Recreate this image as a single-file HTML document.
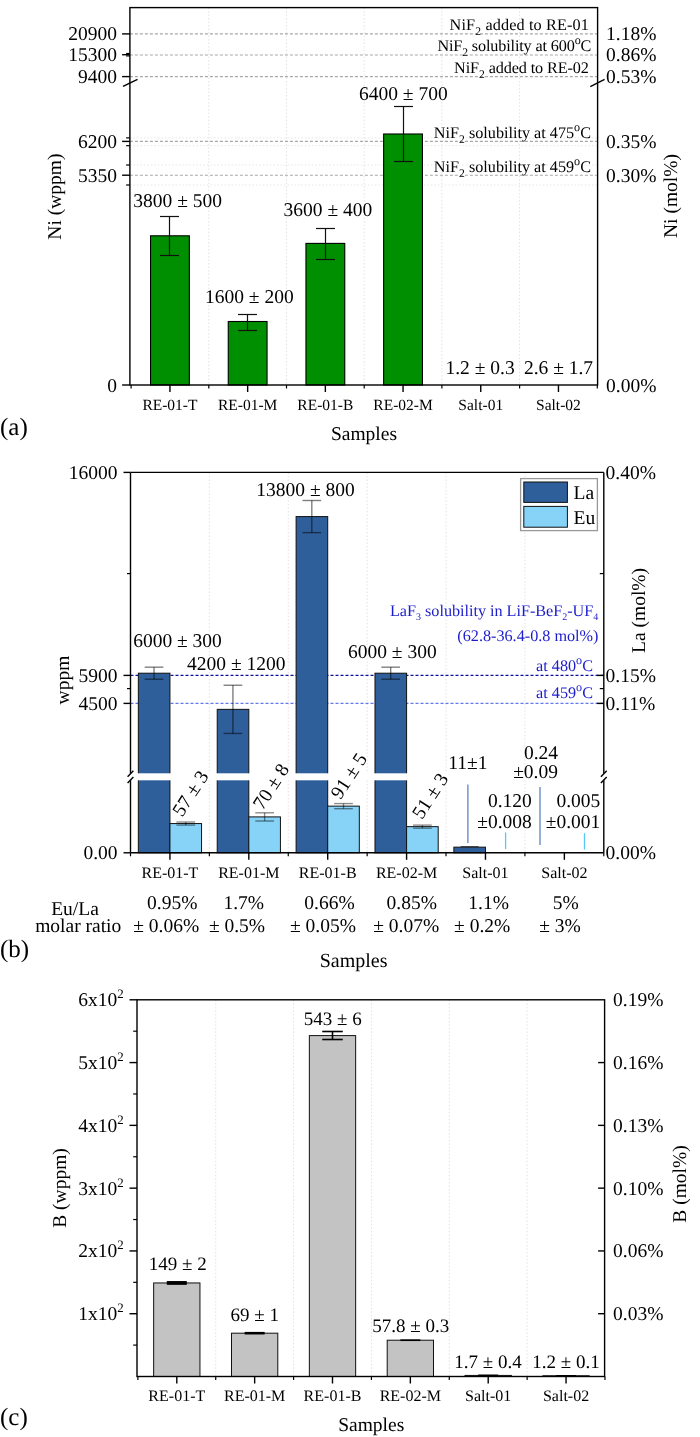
<!DOCTYPE html>
<html><head><meta charset="utf-8"><title>chart</title>
<style>
html,body{margin:0;padding:0;background:#fff;}
body{width:700px;height:1437px;overflow:hidden;}
svg{display:block;font-family:"Liberation Serif", serif;will-change:transform;text-rendering:geometricPrecision;}
</style></head>
<body>
<svg width="700" height="1437" viewBox="0 0 700 1437">
<rect x="0" y="0" width="700" height="1437" fill="#fff"/>
<line x1="208.80" y1="7.60" x2="208.80" y2="385.00" stroke="#e2e2e2" stroke-width="1" stroke-dasharray="1.5 2"/>
<line x1="286.50" y1="7.60" x2="286.50" y2="385.00" stroke="#e2e2e2" stroke-width="1" stroke-dasharray="1.5 2"/>
<line x1="364.20" y1="7.60" x2="364.20" y2="385.00" stroke="#e2e2e2" stroke-width="1" stroke-dasharray="1.5 2"/>
<line x1="441.90" y1="7.60" x2="441.90" y2="385.00" stroke="#e2e2e2" stroke-width="1" stroke-dasharray="1.5 2"/>
<line x1="519.60" y1="7.60" x2="519.60" y2="385.00" stroke="#e2e2e2" stroke-width="1" stroke-dasharray="1.5 2"/>
<line x1="129.90" y1="137.90" x2="597.60" y2="137.90" stroke="#e6e6e6" stroke-width="1" stroke-dasharray="1.5 2"/>
<line x1="129.90" y1="145.70" x2="597.60" y2="145.70" stroke="#e6e6e6" stroke-width="1" stroke-dasharray="1.5 2"/>
<line x1="129.90" y1="165.00" x2="597.60" y2="165.00" stroke="#e6e6e6" stroke-width="1" stroke-dasharray="1.5 2"/>
<line x1="129.90" y1="185.00" x2="597.60" y2="185.00" stroke="#e6e6e6" stroke-width="1" stroke-dasharray="1.5 2"/>
<line x1="129.90" y1="33.90" x2="597.60" y2="33.90" stroke="#a8a8a8" stroke-width="1.1" stroke-dasharray="3 2"/>
<line x1="129.90" y1="55.00" x2="597.60" y2="55.00" stroke="#a8a8a8" stroke-width="1.1" stroke-dasharray="3 2"/>
<line x1="129.90" y1="76.60" x2="597.60" y2="76.60" stroke="#a8a8a8" stroke-width="1.1" stroke-dasharray="3 2"/>
<line x1="129.90" y1="141.40" x2="597.60" y2="141.40" stroke="#a8a8a8" stroke-width="1.1" stroke-dasharray="3 2"/>
<line x1="129.90" y1="175.20" x2="597.60" y2="175.20" stroke="#a8a8a8" stroke-width="1.1" stroke-dasharray="3 2"/>
<rect x="150.55" y="235.80" width="38.80" height="149.20" fill="#008f00" stroke="#000" stroke-width="1.1" />
<line x1="169.50" y1="216.50" x2="169.50" y2="255.50" stroke="#111" stroke-width="1.2" />
<line x1="160.00" y1="216.50" x2="179.00" y2="216.50" stroke="#111" stroke-width="1.2" />
<line x1="160.00" y1="255.50" x2="179.00" y2="255.50" stroke="#111" stroke-width="1.2" />
<rect x="228.25" y="321.50" width="38.80" height="63.50" fill="#008f00" stroke="#000" stroke-width="1.1" />
<line x1="247.50" y1="314.50" x2="247.50" y2="330.50" stroke="#111" stroke-width="1.2" />
<line x1="238.00" y1="314.50" x2="257.00" y2="314.50" stroke="#111" stroke-width="1.2" />
<line x1="238.00" y1="330.50" x2="257.00" y2="330.50" stroke="#111" stroke-width="1.2" />
<rect x="305.95" y="243.40" width="38.80" height="141.60" fill="#008f00" stroke="#000" stroke-width="1.1" />
<line x1="325.50" y1="228.50" x2="325.50" y2="259.50" stroke="#111" stroke-width="1.2" />
<line x1="316.00" y1="228.50" x2="335.00" y2="228.50" stroke="#111" stroke-width="1.2" />
<line x1="316.00" y1="259.50" x2="335.00" y2="259.50" stroke="#111" stroke-width="1.2" />
<rect x="383.65" y="134.00" width="38.80" height="251.00" fill="#008f00" stroke="#000" stroke-width="1.1" />
<line x1="403.50" y1="106.50" x2="403.50" y2="161.50" stroke="#111" stroke-width="1.2" />
<line x1="394.00" y1="106.50" x2="413.00" y2="106.50" stroke="#111" stroke-width="1.2" />
<line x1="394.00" y1="161.50" x2="413.00" y2="161.50" stroke="#111" stroke-width="1.2" />
<rect x="129.90" y="7.60" width="467.70" height="377.40" fill="none" stroke="#000" stroke-width="1.4" />
<line x1="122.10" y1="33.90" x2="129.90" y2="33.90" stroke="#000" stroke-width="1.4" />
<line x1="122.10" y1="54.70" x2="129.90" y2="54.70" stroke="#000" stroke-width="1.4" />
<line x1="122.10" y1="76.60" x2="129.90" y2="76.60" stroke="#000" stroke-width="1.4" />
<line x1="122.10" y1="141.40" x2="129.90" y2="141.40" stroke="#000" stroke-width="1.4" />
<line x1="122.10" y1="175.20" x2="129.90" y2="175.20" stroke="#000" stroke-width="1.4" />
<line x1="122.10" y1="385.00" x2="129.90" y2="385.00" stroke="#000" stroke-width="1.4" />
<line x1="126.10" y1="53.50" x2="129.90" y2="53.50" stroke="#000" stroke-width="1.2" />
<line x1="126.10" y1="55.90" x2="129.90" y2="55.90" stroke="#000" stroke-width="1.2" />
<line x1="126.10" y1="137.90" x2="129.90" y2="137.90" stroke="#000" stroke-width="1.2" />
<line x1="126.10" y1="145.70" x2="129.90" y2="145.70" stroke="#000" stroke-width="1.2" />
<line x1="126.10" y1="165.00" x2="129.90" y2="165.00" stroke="#000" stroke-width="1.2" />
<line x1="126.10" y1="185.00" x2="129.90" y2="185.00" stroke="#000" stroke-width="1.2" />
<line x1="169.95" y1="385.00" x2="169.95" y2="392.00" stroke="#000" stroke-width="1.4" />
<line x1="247.65" y1="385.00" x2="247.65" y2="392.00" stroke="#000" stroke-width="1.4" />
<line x1="325.35" y1="385.00" x2="325.35" y2="392.00" stroke="#000" stroke-width="1.4" />
<line x1="403.05" y1="385.00" x2="403.05" y2="392.00" stroke="#000" stroke-width="1.4" />
<line x1="480.75" y1="385.00" x2="480.75" y2="392.00" stroke="#000" stroke-width="1.4" />
<line x1="558.45" y1="385.00" x2="558.45" y2="392.00" stroke="#000" stroke-width="1.4" />
<line x1="131.10" y1="385.00" x2="131.10" y2="388.50" stroke="#000" stroke-width="1.2" />
<line x1="208.80" y1="385.00" x2="208.80" y2="388.50" stroke="#000" stroke-width="1.2" />
<line x1="286.50" y1="385.00" x2="286.50" y2="388.50" stroke="#000" stroke-width="1.2" />
<line x1="364.20" y1="385.00" x2="364.20" y2="388.50" stroke="#000" stroke-width="1.2" />
<line x1="441.90" y1="385.00" x2="441.90" y2="388.50" stroke="#000" stroke-width="1.2" />
<line x1="519.60" y1="385.00" x2="519.60" y2="388.50" stroke="#000" stroke-width="1.2" />
<line x1="597.30" y1="385.00" x2="597.30" y2="388.50" stroke="#000" stroke-width="1.2" />
<line x1="123.00" y1="86.40" x2="137.50" y2="79.30" stroke="#000" stroke-width="1.4" />
<line x1="590.30" y1="86.70" x2="604.60" y2="79.40" stroke="#000" stroke-width="1.4" />
<text x="117.00" y="40.40" font-size="19.5" text-anchor="end" fill="#000" >20900</text>
<text x="117.00" y="60.70" font-size="19.5" text-anchor="end" fill="#000" >15300</text>
<text x="117.00" y="83.10" font-size="19.5" text-anchor="end" fill="#000" >9400</text>
<text x="117.00" y="147.90" font-size="19.5" text-anchor="end" fill="#000" >6200</text>
<text x="117.00" y="181.70" font-size="19.5" text-anchor="end" fill="#000" >5350</text>
<text x="117.00" y="391.50" font-size="19.5" text-anchor="end" fill="#000" >0</text>
<text x="606.00" y="40.40" font-size="19.5" text-anchor="start" fill="#000" >1.18%</text>
<text x="606.00" y="61.10" font-size="19.5" text-anchor="start" fill="#000" >0.86%</text>
<text x="606.00" y="83.10" font-size="19.5" text-anchor="start" fill="#000" >0.53%</text>
<text x="606.00" y="147.90" font-size="19.5" text-anchor="start" fill="#000" >0.35%</text>
<text x="606.00" y="181.70" font-size="19.5" text-anchor="start" fill="#000" >0.30%</text>
<text x="606.00" y="391.50" font-size="19.5" text-anchor="start" fill="#000" >0.00%</text>
<text x="449.60" y="30.00" font-size="16.2" text-anchor="start" fill="#000" textLength="139.2">NiF<tspan baseline-shift="-5" font-size="72%">2</tspan><tspan> </tspan>added to RE-01</text>
<text x="437.40" y="51.10" font-size="16.2" text-anchor="start" fill="#000" textLength="154.0">NiF<tspan baseline-shift="-5" font-size="72%">2</tspan><tspan> </tspan>solubility at 600<tspan baseline-shift="7.5" font-size="75%">o</tspan>C</text>
<text x="454.10" y="72.50" font-size="16.2" text-anchor="start" fill="#000" textLength="134.7">NiF<tspan baseline-shift="-5" font-size="72%">2</tspan><tspan> </tspan>added to RE-02</text>
<text x="591.00" y="137.60" font-size="16.2" text-anchor="end" fill="#000" >NiF<tspan baseline-shift="-5" font-size="72%">2</tspan><tspan> </tspan>solubility at 475<tspan baseline-shift="7.5" font-size="75%">o</tspan>C</text>
<text x="591.00" y="172.00" font-size="16.2" text-anchor="end" fill="#000" >NiF<tspan baseline-shift="-5" font-size="72%">2</tspan><tspan> </tspan>solubility at 459<tspan baseline-shift="7.5" font-size="75%">o</tspan>C</text>
<text x="177.70" y="206.50" font-size="19.5" text-anchor="middle" fill="#000" >3800 ± 500</text>
<text x="249.30" y="303.20" font-size="19.5" text-anchor="middle" fill="#000" >1600 ± 200</text>
<text x="327.90" y="215.70" font-size="19.5" text-anchor="middle" fill="#000" >3600 ± 400</text>
<text x="403.30" y="99.50" font-size="19.5" text-anchor="middle" fill="#000" >6400 ± 700</text>
<text x="480.10" y="374.20" font-size="19.5" text-anchor="middle" fill="#000" >1.2 ± 0.3</text>
<text x="558.50" y="374.20" font-size="19.5" text-anchor="middle" fill="#000" >2.6 ± 1.7</text>
<text x="169.95" y="409.50" font-size="15.5" text-anchor="middle" fill="#000" >RE-01-T</text>
<text x="247.65" y="409.50" font-size="15.5" text-anchor="middle" fill="#000" >RE-01-M</text>
<text x="325.35" y="409.50" font-size="15.5" text-anchor="middle" fill="#000" >RE-01-B</text>
<text x="403.05" y="409.50" font-size="15.5" text-anchor="middle" fill="#000" >RE-02-M</text>
<text x="480.75" y="409.50" font-size="15.5" text-anchor="middle" fill="#000" >Salt-01</text>
<text x="558.45" y="409.50" font-size="15.5" text-anchor="middle" fill="#000" >Salt-02</text>
<text x="364.00" y="440.00" font-size="19.5" text-anchor="middle" fill="#000" >Samples</text>
<text x="0.00" y="434.50" font-size="25" text-anchor="start" fill="#000" >(a)</text>
<text x="0.00" y="0.00" font-size="19.5" text-anchor="middle" fill="#000" transform="translate(61.0 196.6) rotate(-90)">Ni (wppm)</text>
<text x="0.00" y="0.00" font-size="19.5" text-anchor="middle" fill="#000" transform="translate(677 196) rotate(-90)">Ni (mol%)</text>
<line x1="209.38" y1="472.40" x2="209.38" y2="852.80" stroke="#e2e2e2" stroke-width="1" stroke-dasharray="1.5 2"/>
<line x1="288.27" y1="472.40" x2="288.27" y2="852.80" stroke="#e2e2e2" stroke-width="1" stroke-dasharray="1.5 2"/>
<line x1="367.15" y1="472.40" x2="367.15" y2="852.80" stroke="#e2e2e2" stroke-width="1" stroke-dasharray="1.5 2"/>
<line x1="446.03" y1="472.40" x2="446.03" y2="852.80" stroke="#e2e2e2" stroke-width="1" stroke-dasharray="1.5 2"/>
<line x1="524.92" y1="472.40" x2="524.92" y2="852.80" stroke="#e2e2e2" stroke-width="1" stroke-dasharray="1.5 2"/>
<line x1="130.50" y1="675.40" x2="603.80" y2="675.40" stroke="#1010a0" stroke-width="1.3" stroke-dasharray="3 2"/>
<line x1="130.50" y1="703.40" x2="603.80" y2="703.40" stroke="#6478f0" stroke-width="1.1" stroke-dasharray="3 2"/>
<rect x="138.34" y="673.20" width="31.60" height="179.60" fill="#2f5f9b" stroke="#111" stroke-width="1.0" />
<line x1="154.04" y1="667.18" x2="154.04" y2="679.23" stroke="#000" stroke-width="1.4" stroke-opacity="0.5"/>
<line x1="144.69" y1="667.18" x2="163.39" y2="667.18" stroke="#000" stroke-width="1.4" stroke-opacity="0.5"/>
<line x1="144.69" y1="679.23" x2="163.39" y2="679.23" stroke="#000" stroke-width="1.4" stroke-opacity="0.5"/>
<rect x="169.94" y="823.57" width="31.60" height="29.23" fill="#87d3f8" stroke="#111" stroke-width="1.0" />
<line x1="185.74" y1="822.03" x2="185.74" y2="825.11" stroke="#000" stroke-width="1.4" stroke-opacity="0.45"/>
<line x1="176.39" y1="822.03" x2="195.09" y2="822.03" stroke="#000" stroke-width="1.4" stroke-opacity="0.45"/>
<line x1="176.39" y1="825.11" x2="195.09" y2="825.11" stroke="#000" stroke-width="1.4" stroke-opacity="0.45"/>
<rect x="217.22" y="709.35" width="31.60" height="143.45" fill="#2f5f9b" stroke="#111" stroke-width="1.0" />
<line x1="232.92" y1="685.25" x2="232.92" y2="733.44" stroke="#000" stroke-width="1.4" stroke-opacity="0.5"/>
<line x1="223.57" y1="685.25" x2="242.27" y2="685.25" stroke="#000" stroke-width="1.4" stroke-opacity="0.5"/>
<line x1="223.57" y1="733.44" x2="242.27" y2="733.44" stroke="#000" stroke-width="1.4" stroke-opacity="0.5"/>
<rect x="248.82" y="816.90" width="31.60" height="35.90" fill="#87d3f8" stroke="#111" stroke-width="1.0" />
<line x1="264.62" y1="812.80" x2="264.62" y2="821.01" stroke="#000" stroke-width="1.4" stroke-opacity="0.45"/>
<line x1="255.28" y1="812.80" x2="273.98" y2="812.80" stroke="#000" stroke-width="1.4" stroke-opacity="0.45"/>
<line x1="255.28" y1="821.01" x2="273.98" y2="821.01" stroke="#000" stroke-width="1.4" stroke-opacity="0.45"/>
<rect x="296.11" y="516.58" width="31.60" height="336.22" fill="#2f5f9b" stroke="#111" stroke-width="1.0" />
<line x1="311.81" y1="500.51" x2="311.81" y2="532.64" stroke="#000" stroke-width="1.4" stroke-opacity="0.5"/>
<line x1="302.46" y1="500.51" x2="321.16" y2="500.51" stroke="#000" stroke-width="1.4" stroke-opacity="0.5"/>
<line x1="302.46" y1="532.64" x2="321.16" y2="532.64" stroke="#000" stroke-width="1.4" stroke-opacity="0.5"/>
<rect x="327.71" y="806.13" width="31.60" height="46.67" fill="#87d3f8" stroke="#111" stroke-width="1.0" />
<line x1="343.51" y1="803.57" x2="343.51" y2="808.70" stroke="#000" stroke-width="1.4" stroke-opacity="0.45"/>
<line x1="334.16" y1="803.57" x2="352.86" y2="803.57" stroke="#000" stroke-width="1.4" stroke-opacity="0.45"/>
<line x1="334.16" y1="808.70" x2="352.86" y2="808.70" stroke="#000" stroke-width="1.4" stroke-opacity="0.45"/>
<rect x="374.99" y="673.20" width="31.60" height="179.60" fill="#2f5f9b" stroke="#111" stroke-width="1.0" />
<line x1="390.69" y1="667.18" x2="390.69" y2="679.23" stroke="#000" stroke-width="1.4" stroke-opacity="0.5"/>
<line x1="381.34" y1="667.18" x2="400.04" y2="667.18" stroke="#000" stroke-width="1.4" stroke-opacity="0.5"/>
<line x1="381.34" y1="679.23" x2="400.04" y2="679.23" stroke="#000" stroke-width="1.4" stroke-opacity="0.5"/>
<rect x="406.59" y="826.65" width="31.60" height="26.15" fill="#87d3f8" stroke="#111" stroke-width="1.0" />
<line x1="422.39" y1="825.11" x2="422.39" y2="828.18" stroke="#000" stroke-width="1.4" stroke-opacity="0.45"/>
<line x1="413.04" y1="825.11" x2="431.74" y2="825.11" stroke="#000" stroke-width="1.4" stroke-opacity="0.45"/>
<line x1="413.04" y1="828.18" x2="431.74" y2="828.18" stroke="#000" stroke-width="1.4" stroke-opacity="0.45"/>
<rect x="453.87" y="847.16" width="31.60" height="5.64" fill="#2f5f9b" stroke="#111" stroke-width="1.0" />
<line x1="460.67" y1="846.65" x2="478.67" y2="846.65" stroke="#333" stroke-width="1.0" />
<rect x="131.50" y="773.30" width="471.30" height="7.00" fill="#fff"/>
<line x1="467.90" y1="784.60" x2="467.90" y2="842.90" stroke="#5a85c0" stroke-width="1.3" />
<line x1="505.60" y1="832.50" x2="505.60" y2="849.00" stroke="#55c8f5" stroke-width="1.3" />
<line x1="540.00" y1="787.00" x2="540.00" y2="844.90" stroke="#5a85c0" stroke-width="1.3" />
<line x1="584.50" y1="833.20" x2="584.50" y2="849.50" stroke="#55c8f5" stroke-width="1.3" />
<line x1="130.50" y1="472.40" x2="603.80" y2="472.40" stroke="#000" stroke-width="1.4" />
<line x1="130.50" y1="852.80" x2="603.80" y2="852.80" stroke="#000" stroke-width="1.4" />
<line x1="130.50" y1="472.40" x2="130.50" y2="773.30" stroke="#000" stroke-width="1.4" />
<line x1="130.50" y1="780.30" x2="130.50" y2="852.80" stroke="#000" stroke-width="1.4" />
<line x1="603.80" y1="472.40" x2="603.80" y2="773.30" stroke="#000" stroke-width="1.4" />
<line x1="603.80" y1="780.30" x2="603.80" y2="852.80" stroke="#000" stroke-width="1.4" />
<line x1="127.60" y1="776.70" x2="133.40" y2="770.70" stroke="#000" stroke-width="1.4" />
<line x1="127.60" y1="783.10" x2="133.40" y2="777.10" stroke="#000" stroke-width="1.4" />
<line x1="600.90" y1="776.70" x2="606.70" y2="770.70" stroke="#000" stroke-width="1.4" />
<line x1="600.90" y1="783.10" x2="606.70" y2="777.10" stroke="#000" stroke-width="1.4" />
<line x1="123.50" y1="472.40" x2="130.50" y2="472.40" stroke="#000" stroke-width="1.4" />
<line x1="123.50" y1="675.40" x2="130.50" y2="675.40" stroke="#000" stroke-width="1.4" />
<line x1="123.50" y1="703.40" x2="130.50" y2="703.40" stroke="#000" stroke-width="1.4" />
<line x1="123.50" y1="852.80" x2="130.50" y2="852.80" stroke="#000" stroke-width="1.4" />
<line x1="127.00" y1="573.60" x2="130.50" y2="573.60" stroke="#000" stroke-width="1.2" />
<line x1="127.00" y1="688.60" x2="130.50" y2="688.60" stroke="#000" stroke-width="1.2" />
<line x1="596.80" y1="675.40" x2="603.80" y2="675.40" stroke="#000" stroke-width="1.4" />
<line x1="596.80" y1="703.40" x2="603.80" y2="703.40" stroke="#000" stroke-width="1.4" />
<line x1="599.80" y1="573.60" x2="603.80" y2="573.60" stroke="#000" stroke-width="1.2" />
<line x1="599.80" y1="688.60" x2="603.80" y2="688.60" stroke="#000" stroke-width="1.2" />
<line x1="169.94" y1="852.80" x2="169.94" y2="859.80" stroke="#000" stroke-width="1.4" />
<line x1="248.82" y1="852.80" x2="248.82" y2="859.80" stroke="#000" stroke-width="1.4" />
<line x1="327.71" y1="852.80" x2="327.71" y2="859.80" stroke="#000" stroke-width="1.4" />
<line x1="406.59" y1="852.80" x2="406.59" y2="859.80" stroke="#000" stroke-width="1.4" />
<line x1="485.47" y1="852.80" x2="485.47" y2="859.80" stroke="#000" stroke-width="1.4" />
<line x1="564.36" y1="852.80" x2="564.36" y2="859.80" stroke="#000" stroke-width="1.4" />
<line x1="130.50" y1="852.80" x2="130.50" y2="856.30" stroke="#000" stroke-width="1.2" />
<line x1="209.38" y1="852.80" x2="209.38" y2="856.30" stroke="#000" stroke-width="1.2" />
<line x1="288.27" y1="852.80" x2="288.27" y2="856.30" stroke="#000" stroke-width="1.2" />
<line x1="367.15" y1="852.80" x2="367.15" y2="856.30" stroke="#000" stroke-width="1.2" />
<line x1="446.03" y1="852.80" x2="446.03" y2="856.30" stroke="#000" stroke-width="1.2" />
<line x1="524.92" y1="852.80" x2="524.92" y2="856.30" stroke="#000" stroke-width="1.2" />
<line x1="603.80" y1="852.80" x2="603.80" y2="856.30" stroke="#000" stroke-width="1.2" />
<rect x="520.60" y="478.60" width="76.80" height="52.00" fill="#fff" stroke="#999" stroke-width="1.3" />
<rect x="523.80" y="482.00" width="43.60" height="20.40" fill="#2f5f9b" stroke="#111" stroke-width="1.0" />
<rect x="523.80" y="506.40" width="43.60" height="20.80" fill="#87d3f8" stroke="#111" stroke-width="1.0" />
<text x="573.50" y="499.00" font-size="19.5" text-anchor="start" fill="#000" >La</text>
<text x="573.50" y="523.50" font-size="19.5" text-anchor="start" fill="#000" >Eu</text>
<text x="117.50" y="478.90" font-size="19.5" text-anchor="end" fill="#000" >16000</text>
<text x="117.50" y="681.90" font-size="19.5" text-anchor="end" fill="#000" >5900</text>
<text x="117.50" y="709.90" font-size="19.5" text-anchor="end" fill="#000" >4500</text>
<text x="117.50" y="859.30" font-size="19.5" text-anchor="end" fill="#000" >0.00</text>
<text x="605.50" y="478.90" font-size="19.5" text-anchor="start" fill="#000" >0.40%</text>
<text x="605.50" y="681.90" font-size="19.5" text-anchor="start" fill="#000" >0.15%</text>
<text x="605.50" y="709.90" font-size="19.5" text-anchor="start" fill="#000" >0.11%</text>
<text x="605.50" y="859.30" font-size="19.5" text-anchor="start" fill="#000" >0.00%</text>
<text x="390.00" y="616.30" font-size="16.2" text-anchor="start" fill="#1c1cca" textLength="208.3">LaF<tspan baseline-shift="-4" font-size="62%">3</tspan><tspan> </tspan>solubility in LiF-BeF<tspan baseline-shift="-4" font-size="62%">2</tspan>-UF<tspan baseline-shift="-4" font-size="62%">4</tspan></text>
<text x="598.50" y="641.00" font-size="16.2" text-anchor="end" fill="#1c1cca" >(62.8-36.4-0.8 mol%)</text>
<text x="593.00" y="670.50" font-size="16.2" text-anchor="end" fill="#1c1cca" >at 480<tspan baseline-shift="7.5" font-size="75%">o</tspan>C</text>
<text x="593.00" y="697.80" font-size="16.2" text-anchor="end" fill="#1c1cca" >at 459<tspan baseline-shift="7.5" font-size="75%">o</tspan>C</text>
<text x="177.50" y="646.50" font-size="19.5" text-anchor="middle" fill="#000" >6000 ± 300</text>
<text x="236.30" y="670.00" font-size="19.5" text-anchor="middle" fill="#000" >4200 ± 1200</text>
<text x="305.50" y="495.70" font-size="19.5" text-anchor="middle" fill="#000" >13800 ± 800</text>
<text x="392.30" y="658.00" font-size="19.5" text-anchor="middle" fill="#000" >6000 ± 300</text>
<text x="0.00" y="6.50" font-size="19.5" text-anchor="middle" fill="#000" transform="translate(190.3 793.4) rotate(-57)">57 ± 3</text>
<text x="0.00" y="6.50" font-size="19.5" text-anchor="middle" fill="#000" transform="translate(270.9 786.5) rotate(-57)">70 ± 8</text>
<text x="0.00" y="6.50" font-size="19.5" text-anchor="middle" fill="#000" transform="translate(348.7 775.9) rotate(-57)">91 ± 5</text>
<text x="0.00" y="6.50" font-size="19.5" text-anchor="middle" fill="#000" transform="translate(430.0 795.8) rotate(-57)">51 ± 3</text>
<text x="467.90" y="768.90" font-size="19.5" text-anchor="middle" fill="#000" >11±1</text>
<text x="558.00" y="758.70" font-size="19.5" text-anchor="end" fill="#000" >0.24</text>
<text x="558.00" y="778.40" font-size="19.5" text-anchor="end" fill="#000" >±0.09</text>
<text x="531.80" y="806.50" font-size="19.5" text-anchor="end" fill="#000" >0.120</text>
<text x="531.80" y="828.30" font-size="19.5" text-anchor="end" fill="#000" >±0.008</text>
<text x="600.30" y="806.50" font-size="19.5" text-anchor="end" fill="#000" >0.005</text>
<text x="600.30" y="828.30" font-size="19.5" text-anchor="end" fill="#000" >±0.001</text>
<text x="169.94" y="878.00" font-size="16.0" text-anchor="middle" fill="#000" >RE-01-T</text>
<text x="248.82" y="878.00" font-size="16.0" text-anchor="middle" fill="#000" >RE-01-M</text>
<text x="327.71" y="878.00" font-size="16.0" text-anchor="middle" fill="#000" >RE-01-B</text>
<text x="406.59" y="878.00" font-size="16.0" text-anchor="middle" fill="#000" >RE-02-M</text>
<text x="485.47" y="878.00" font-size="16.0" text-anchor="middle" fill="#000" >Salt-01</text>
<text x="564.36" y="878.00" font-size="16.0" text-anchor="middle" fill="#000" >Salt-02</text>
<text x="172.30" y="909.00" font-size="19.5" text-anchor="middle" fill="#000" >0.95%</text>
<text x="243.80" y="909.00" font-size="19.5" text-anchor="middle" fill="#000" >1.7%</text>
<text x="329.50" y="909.00" font-size="19.5" text-anchor="middle" fill="#000" >0.66%</text>
<text x="411.80" y="909.00" font-size="19.5" text-anchor="middle" fill="#000" >0.85%</text>
<text x="488.60" y="909.00" font-size="19.5" text-anchor="middle" fill="#000" >1.1%</text>
<text x="565.80" y="909.00" font-size="19.5" text-anchor="middle" fill="#000" >5%</text>
<text x="166.20" y="932.30" font-size="19.5" text-anchor="middle" fill="#000" >± 0.06%</text>
<text x="237.00" y="932.30" font-size="19.5" text-anchor="middle" fill="#000" >± 0.5%</text>
<text x="323.00" y="932.30" font-size="19.5" text-anchor="middle" fill="#000" >± 0.05%</text>
<text x="406.20" y="932.30" font-size="19.5" text-anchor="middle" fill="#000" >± 0.07%</text>
<text x="482.20" y="932.30" font-size="19.5" text-anchor="middle" fill="#000" >± 0.2%</text>
<text x="560.00" y="932.30" font-size="19.5" text-anchor="middle" fill="#000" >± 3%</text>
<text x="75.00" y="915.20" font-size="19.5" text-anchor="middle" fill="#000" >Eu/La</text>
<text x="78.20" y="932.10" font-size="19.5" text-anchor="middle" fill="#000" >molar ratio</text>
<text x="0.00" y="957.30" font-size="25" text-anchor="start" fill="#000" >(b)</text>
<text x="353.60" y="966.70" font-size="20.0" text-anchor="middle" fill="#000" >Samples</text>
<text x="0.00" y="0.00" font-size="19.5" text-anchor="middle" fill="#000" transform="translate(68.6 680) rotate(-90)">wppm</text>
<text x="0.00" y="0.00" font-size="19.5" text-anchor="middle" fill="#000" transform="translate(645.2 610.4) rotate(-90)">La (mol%)</text>
<line x1="215.72" y1="999.80" x2="215.72" y2="1376.50" stroke="#e2e2e2" stroke-width="1" stroke-dasharray="1.5 2"/>
<line x1="293.57" y1="999.80" x2="293.57" y2="1376.50" stroke="#e2e2e2" stroke-width="1" stroke-dasharray="1.5 2"/>
<line x1="371.42" y1="999.80" x2="371.42" y2="1376.50" stroke="#e2e2e2" stroke-width="1" stroke-dasharray="1.5 2"/>
<line x1="449.27" y1="999.80" x2="449.27" y2="1376.50" stroke="#e2e2e2" stroke-width="1" stroke-dasharray="1.5 2"/>
<line x1="527.12" y1="999.80" x2="527.12" y2="1376.50" stroke="#e2e2e2" stroke-width="1" stroke-dasharray="1.5 2"/>
<rect x="153.65" y="1282.95" width="46.30" height="93.55" fill="#c3c3c3" stroke="#111" stroke-width="1.0" />
<rect x="166.80" y="1281.05" width="20" height="3.81" fill="#000"/>
<rect x="231.50" y="1333.18" width="46.30" height="43.32" fill="#c3c3c3" stroke="#111" stroke-width="1.0" />
<rect x="244.65" y="1331.90" width="20" height="2.56" fill="#000"/>
<rect x="309.35" y="1035.59" width="46.30" height="340.91" fill="#c3c3c3" stroke="#111" stroke-width="1.0" />
<line x1="332.50" y1="1031.50" x2="332.50" y2="1039.50" stroke="#000" stroke-width="1.6" />
<line x1="322.25" y1="1031.50" x2="342.75" y2="1031.50" stroke="#000" stroke-width="1.6" />
<line x1="322.25" y1="1039.50" x2="342.75" y2="1039.50" stroke="#000" stroke-width="1.6" />
<rect x="387.20" y="1340.21" width="46.30" height="36.29" fill="#c3c3c3" stroke="#111" stroke-width="1.0" />
<rect x="400.35" y="1339.37" width="20" height="1.68" fill="#000"/>
<rect x="465.05" y="1375.43" width="46.30" height="1.07" fill="#c3c3c3" stroke="#111" stroke-width="1.0" />
<rect x="478.20" y="1374.53" width="20" height="1.80" fill="#000"/>
<rect x="542.90" y="1375.75" width="46.30" height="0.75" fill="#c3c3c3" stroke="#111" stroke-width="1.0" />
<rect x="556.05" y="1375.03" width="20" height="1.43" fill="#000"/>
<rect x="137.00" y="999.80" width="467.60" height="376.70" fill="none" stroke="#000" stroke-width="1.4" />
<line x1="129.50" y1="1313.72" x2="137.00" y2="1313.72" stroke="#000" stroke-width="1.4" />
<line x1="598.10" y1="1313.72" x2="604.60" y2="1313.72" stroke="#000" stroke-width="1.4" />
<line x1="129.50" y1="1250.93" x2="137.00" y2="1250.93" stroke="#000" stroke-width="1.4" />
<line x1="598.10" y1="1250.93" x2="604.60" y2="1250.93" stroke="#000" stroke-width="1.4" />
<line x1="129.50" y1="1188.15" x2="137.00" y2="1188.15" stroke="#000" stroke-width="1.4" />
<line x1="598.10" y1="1188.15" x2="604.60" y2="1188.15" stroke="#000" stroke-width="1.4" />
<line x1="129.50" y1="1125.37" x2="137.00" y2="1125.37" stroke="#000" stroke-width="1.4" />
<line x1="598.10" y1="1125.37" x2="604.60" y2="1125.37" stroke="#000" stroke-width="1.4" />
<line x1="129.50" y1="1062.58" x2="137.00" y2="1062.58" stroke="#000" stroke-width="1.4" />
<line x1="598.10" y1="1062.58" x2="604.60" y2="1062.58" stroke="#000" stroke-width="1.4" />
<line x1="129.50" y1="999.80" x2="137.00" y2="999.80" stroke="#000" stroke-width="1.4" />
<line x1="133.20" y1="1345.11" x2="137.00" y2="1345.11" stroke="#000" stroke-width="1.2" />
<line x1="133.20" y1="1282.33" x2="137.00" y2="1282.33" stroke="#000" stroke-width="1.2" />
<line x1="133.20" y1="1219.54" x2="137.00" y2="1219.54" stroke="#000" stroke-width="1.2" />
<line x1="133.20" y1="1156.76" x2="137.00" y2="1156.76" stroke="#000" stroke-width="1.2" />
<line x1="133.20" y1="1093.97" x2="137.00" y2="1093.97" stroke="#000" stroke-width="1.2" />
<line x1="133.20" y1="1031.19" x2="137.00" y2="1031.19" stroke="#000" stroke-width="1.2" />
<line x1="176.80" y1="1376.50" x2="176.80" y2="1383.50" stroke="#000" stroke-width="1.4" />
<line x1="254.65" y1="1376.50" x2="254.65" y2="1383.50" stroke="#000" stroke-width="1.4" />
<line x1="332.50" y1="1376.50" x2="332.50" y2="1383.50" stroke="#000" stroke-width="1.4" />
<line x1="410.35" y1="1376.50" x2="410.35" y2="1383.50" stroke="#000" stroke-width="1.4" />
<line x1="488.20" y1="1376.50" x2="488.20" y2="1383.50" stroke="#000" stroke-width="1.4" />
<line x1="566.05" y1="1376.50" x2="566.05" y2="1383.50" stroke="#000" stroke-width="1.4" />
<line x1="137.88" y1="1376.50" x2="137.88" y2="1380.00" stroke="#000" stroke-width="1.2" />
<line x1="215.72" y1="1376.50" x2="215.72" y2="1380.00" stroke="#000" stroke-width="1.2" />
<line x1="293.57" y1="1376.50" x2="293.57" y2="1380.00" stroke="#000" stroke-width="1.2" />
<line x1="371.42" y1="1376.50" x2="371.42" y2="1380.00" stroke="#000" stroke-width="1.2" />
<line x1="449.27" y1="1376.50" x2="449.27" y2="1380.00" stroke="#000" stroke-width="1.2" />
<line x1="527.12" y1="1376.50" x2="527.12" y2="1380.00" stroke="#000" stroke-width="1.2" />
<line x1="604.97" y1="1376.50" x2="604.97" y2="1380.00" stroke="#000" stroke-width="1.2" />
<text x="123.80" y="1320.22" font-size="19.5" text-anchor="end" fill="#000" >1x10<tspan baseline-shift="8.2" font-size="66%">2</tspan></text>
<text x="123.80" y="1257.43" font-size="19.5" text-anchor="end" fill="#000" >2x10<tspan baseline-shift="8.2" font-size="66%">2</tspan></text>
<text x="123.80" y="1194.65" font-size="19.5" text-anchor="end" fill="#000" >3x10<tspan baseline-shift="8.2" font-size="66%">2</tspan></text>
<text x="123.80" y="1131.87" font-size="19.5" text-anchor="end" fill="#000" >4x10<tspan baseline-shift="8.2" font-size="66%">2</tspan></text>
<text x="123.80" y="1069.08" font-size="19.5" text-anchor="end" fill="#000" >5x10<tspan baseline-shift="8.2" font-size="66%">2</tspan></text>
<text x="123.80" y="1006.30" font-size="19.5" text-anchor="end" fill="#000" >6x10<tspan baseline-shift="8.2" font-size="66%">2</tspan></text>
<text x="613.00" y="1320.22" font-size="19.5" text-anchor="start" fill="#000" >0.03%</text>
<text x="613.00" y="1257.43" font-size="19.5" text-anchor="start" fill="#000" >0.06%</text>
<text x="613.00" y="1194.65" font-size="19.5" text-anchor="start" fill="#000" >0.10%</text>
<text x="613.00" y="1131.87" font-size="19.5" text-anchor="start" fill="#000" >0.13%</text>
<text x="613.00" y="1069.08" font-size="19.5" text-anchor="start" fill="#000" >0.16%</text>
<text x="613.00" y="1006.30" font-size="19.5" text-anchor="start" fill="#000" >0.19%</text>
<text x="177.70" y="1270.20" font-size="19.0" text-anchor="middle" fill="#000" >149 ± 2</text>
<text x="254.80" y="1320.50" font-size="19.0" text-anchor="middle" fill="#000" >69 ± 1</text>
<text x="332.80" y="1024.50" font-size="19.0" text-anchor="middle" fill="#000" >543 ± 6</text>
<text x="410.80" y="1331.50" font-size="19.0" text-anchor="middle" fill="#000" >57.8 ± 0.3</text>
<text x="488.00" y="1367.50" font-size="19.0" text-anchor="middle" fill="#000" >1.7 ± 0.4</text>
<text x="566.00" y="1367.50" font-size="19.0" text-anchor="middle" fill="#000" >1.2 ± 0.1</text>
<text x="176.80" y="1401.00" font-size="16.0" text-anchor="middle" fill="#000" >RE-01-T</text>
<text x="254.65" y="1401.00" font-size="16.0" text-anchor="middle" fill="#000" >RE-01-M</text>
<text x="332.50" y="1401.00" font-size="16.0" text-anchor="middle" fill="#000" >RE-01-B</text>
<text x="410.35" y="1401.00" font-size="16.0" text-anchor="middle" fill="#000" >RE-02-M</text>
<text x="488.20" y="1401.00" font-size="16.0" text-anchor="middle" fill="#000" >Salt-01</text>
<text x="566.05" y="1401.00" font-size="16.0" text-anchor="middle" fill="#000" >Salt-02</text>
<text x="371.20" y="1431.00" font-size="19.5" text-anchor="middle" fill="#000" >Samples</text>
<text x="0.00" y="1425.00" font-size="25" text-anchor="start" fill="#000" >(c)</text>
<text x="0.00" y="0.00" font-size="19.5" text-anchor="middle" fill="#000" transform="translate(65.9 1188) rotate(-90)">B (wppm)</text>
<text x="0.00" y="0.00" font-size="19.5" text-anchor="middle" fill="#000" transform="translate(685.6 1184) rotate(-90)">B (mol%)</text>
</svg>
</body></html>
